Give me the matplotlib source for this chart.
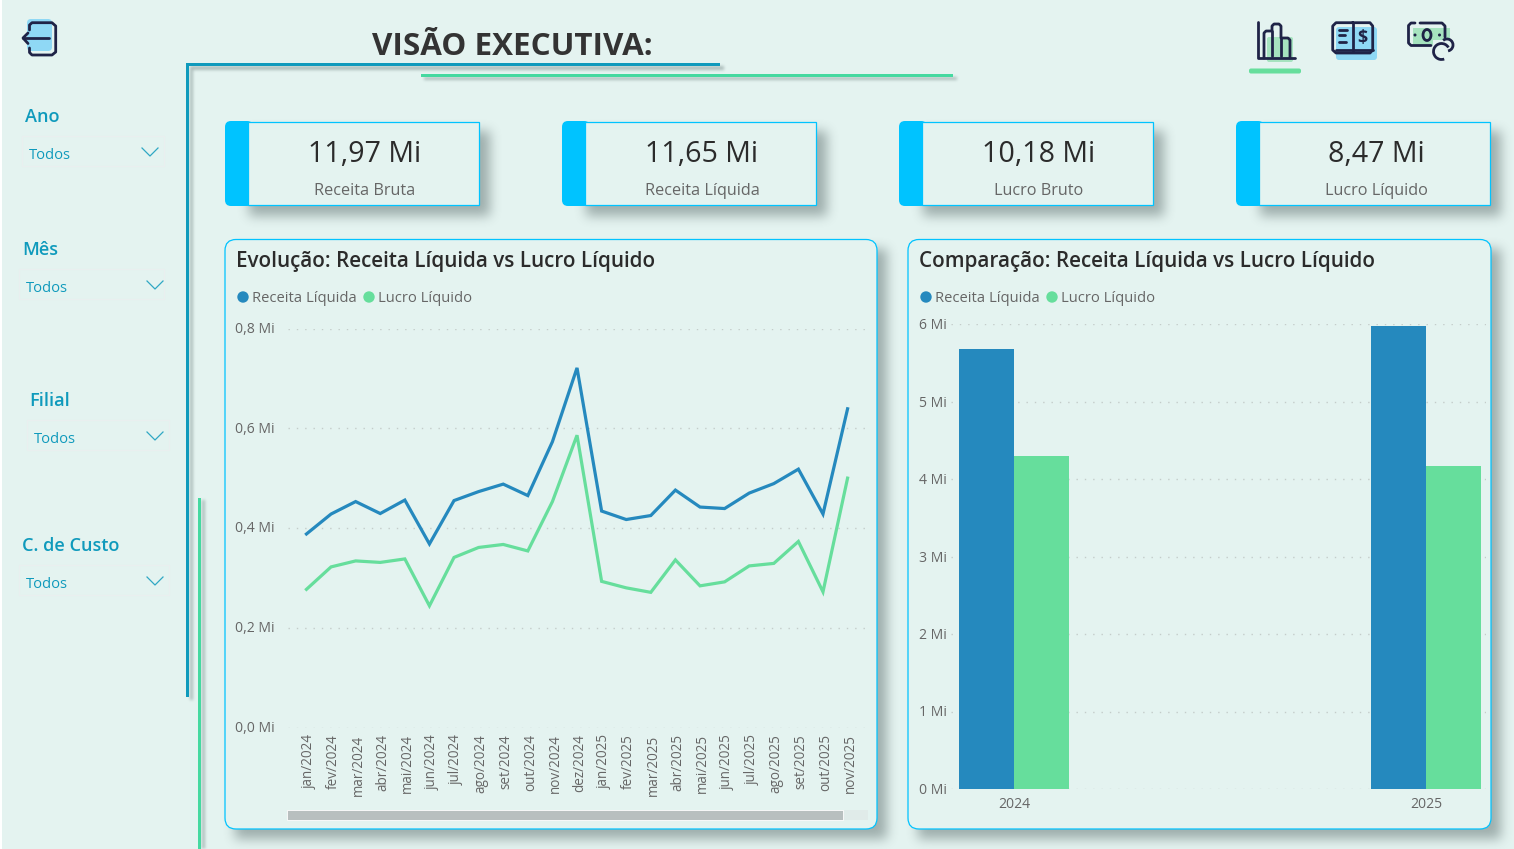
import numpy as np
import matplotlib
matplotlib.use('Agg')
import matplotlib.pyplot as plt
from matplotlib.patches import FancyBboxPatch, Rectangle, Circle, Arc, Ellipse
from matplotlib.ticker import FuncFormatter
from matplotlib.transforms import ScaledTranslation

plt.rcParams['font.family'] = ['Open Sans', 'DejaVu Sans']

months = ['jan/2024', 'fev/2024', 'mar/2024', 'abr/2024', 'mai/2024', 'jun/2024',
          'jul/2024', 'ago/2024', 'set/2024', 'out/2024', 'nov/2024', 'dez/2024',
          'jan/2025', 'fev/2025', 'mar/2025', 'abr/2025', 'mai/2025', 'jun/2025',
          'jul/2025', 'ago/2025', 'set/2025', 'out/2025', 'nov/2025']
receita_mes = [0.388, 0.428, 0.453, 0.429, 0.456, 0.368, 0.455, 0.473, 0.488, 0.465, 0.573, 0.721,
               0.434, 0.417, 0.425, 0.476, 0.442, 0.439, 0.470, 0.489, 0.518, 0.428, 0.639]
lucro_mes = [0.277, 0.322, 0.334, 0.331, 0.338, 0.244, 0.341, 0.361, 0.367, 0.354, 0.453, 0.586,
             0.293, 0.280, 0.271, 0.336, 0.284, 0.292, 0.324, 0.329, 0.373, 0.272, 0.500]

anos = ['2024', '2025']
receita_ano = [5.68, 5.97]
lucro_ano = [4.30, 4.17]

card_values = ['11,97 Mi', '11,65 Mi', '10,18 Mi', '8,47 Mi']
card_names = ['Receita Bruta', 'Receita Líquida', 'Lucro Bruto', 'Lucro Líquido']

BG = '#E4F3F0'
BLUE = '#2589BE'
GREEN = '#66DE9C'
LINE_GREEN = '#45D9A0'
CYAN = '#00C3FF'
TEAL = '#0F9ABC'
DARK = '#1F2347'
GREY = '#666666'

W, H = 1514, 849
fig = plt.figure(figsize=(W / 100, H / 100), dpi=100, facecolor=BG)
page = fig.add_axes([0, 0, 1, 1])
page.axis('off')


def px(n):
    return n * 0.72


def blur(a, n):
    # three box passes along each axis, close enough to a gaussian
    k = np.ones(n) / n
    for _ in range(3):
        a = np.apply_along_axis(lambda r: np.convolve(r, k, mode='same'), 0, a)
        a = np.apply_along_axis(lambda r: np.convolve(r, k, mode='same'), 1, a)
    return a


# drop shadows are painted on masks, then blurred
soft = np.zeros((H, W))
thin = np.zeros((H, W))
for x0 in [225, 562, 899, 1236]:
    soft[131:216, x0 + 24:x0 + 265] = 1
soft[249:839, 235:887] = 1
soft[249:839, 918:1501] = 1
thin[66:70, 190:724] = 1
thin[66:700, 190:193] = 1
thin[77:80, 424:957] = 1
thin[500:849, 202:205] = 1
shade = np.maximum(blur(soft, 11) * 0.38, blur(thin, 3) * 0.30)
rgba = np.zeros((H, W, 4))
rgba[..., :3] = (0.18, 0.25, 0.25)
rgba[..., 3] = shade
page.imshow(rgba, extent=(0, W, H, 0), aspect='auto', interpolation='nearest', zorder=0)
page.set_xlim(0, W)
page.set_ylim(H, 0)


def rbox(x0, y0, x1, y1, r, **kw):
    p = FancyBboxPatch((x0 + r, y0 + r), x1 - x0 - 2 * r, y1 - y0 - 2 * r,
                       boxstyle='round,pad=%f,rounding_size=%f' % (r, r), **kw)
    page.add_patch(p)
    return p


# strip at the left edge of the page
page.add_patch(Rectangle((0, 0), 2, H, fc='white', ec='none'))

# frame lines
page.add_patch(Rectangle((186, 63), 534, 3, fc=TEAL, ec='none'))
page.add_patch(Rectangle((186, 63), 3, 634, fc=TEAL, ec='none'))
page.add_patch(Rectangle((421, 73.5), 532, 3, fc=LINE_GREEN, ec='none'))
page.add_patch(Rectangle((198, 498), 2.5, 351, fc=LINE_GREEN, ec='none'))

page.text(512, 47, 'VISÃO EXECUTIVA:', fontsize=px(31.4), fontweight='bold', color='#333333',
          ha='center', va='center')

# slicers
slicers = [('Ano', 25, 115, 22, 136, 164, 29, 153, 150),
           ('Mês', 22, 248, 19, 269, 164, 26, 286, 155),
           ('Filial', 29.5, 399, 27, 420, 169, 34, 437, 155),
           ('C. de Custo', 22, 544, 19, 565, 169, 26, 582, 155)]
for name, tx, ty, bx0, by0, bx1, vx, vy, cx in slicers:
    page.text(tx, ty + 2, name, fontsize=px(18.1), fontweight='semibold', color=TEAL, ha='left', va='center')
    page.add_patch(Rectangle((bx0, by0), bx1 - bx0, 30, fc='none', ec='#E9EFEF', lw=0.8))
    page.text(vx, vy + 2, 'Todos', fontsize=px(14.8), color=TEAL, ha='left', va='center')
    page.plot([cx - 8, cx, cx + 8], [vy - 5, vy + 3, vy - 5], color=TEAL, lw=0.9, alpha=0.85)

# KPI cards
for x0, val, name in zip([225, 562, 899, 1236], card_values, card_names):
    rbox(x0, 121, x0 + 28, 206, 6, fc=CYAN, ec='none')
    page.add_patch(Rectangle((x0 + 23, 121.5), 231, 83.5, fc=BG, ec=CYAN, lw=0.9))
    page.text(x0 + 140, 154, val, fontsize=px(28.6), color='#2b2b2b', ha='center', va='center')
    page.text(x0 + 140, 191, name, fontsize=px(16.3), color=GREY, ha='center', va='center')

# chart panels
for x0, x1 in [(225, 877), (908, 1491)]:
    rbox(x0, 239.5, x1, 829, 11, fc=BG, ec=CYAN, lw=0.9)

for x0, title in [(236, 'Evolução: Receita Líquida vs Lucro Líquido'),
                  (919, 'Comparação: Receita Líquida vs Lucro Líquido')]:
    page.text(x0, 262, title, fontsize=px(20.7), fontweight='semibold', color='#2b2b2b',
              ha='left', va='center')
    page.add_patch(Circle((x0 + 7, 297), 5.7, fc=BLUE, ec='none'))
    page.text(x0 + 16, 299, 'Receita Líquida', fontsize=px(14.7), color=GREY, ha='left', va='center')
    page.add_patch(Circle((x0 + 133, 297), 5.7, fc=GREEN, ec='none'))
    page.text(x0 + 142, 299, 'Lucro Líquido', fontsize=px(14.7), color=GREY, ha='left', va='center')


def chart_axes(x0, y_top, x1, y_bottom):
    ax = fig.add_axes([x0 / W, 1 - y_bottom / H, (x1 - x0) / W, (y_bottom - y_top) / H])
    ax.patch.set_alpha(0)
    for s in ax.spines.values():
        s.set_visible(False)
    ax.grid(axis='y', color='#C4CCCA', lw=1, linestyle=(0, (1, 5)))
    ax.set_axisbelow(True)
    ax.tick_params(length=0, colors=GREY)
    return ax


def nudge(labels, dx, dy):
    # moves tick labels by a few pixels
    t = ScaledTranslation(dx / 100, dy / 100, fig.dpi_scale_trans)
    for lab in labels:
        lab.set_transform(lab.get_transform() + t)


# monthly lines
ax1 = chart_axes(288, 328.5, 868, 727.5)
pos = list(range(len(months)))
ax1.plot(pos, receita_mes, color=BLUE, lw=2.3, solid_joinstyle='miter')
ax1.plot(pos, lucro_mes, color=GREEN, lw=2.3, solid_joinstyle='miter')
ax1.set_xlim(-0.75, 22.83)
ax1.set_ylim(0, 0.8)
ax1.set_yticks([0, 0.2, 0.4, 0.6, 0.8])
ax1.yaxis.set_major_formatter(FuncFormatter(lambda v, p: ('%.1f Mi' % v).replace('.', ',')))
ax1.set_xticks(pos)
ax1.set_xticklabels(months, rotation=90, fontsize=px(13.5), color=GREY)
ax1.tick_params(axis='x', pad=5)
ax1.tick_params(axis='y', labelsize=px(14), pad=9.5)
nudge(ax1.get_xticklabels(), 2.5, 0)
nudge(ax1.get_yticklabels(), 0, 1)

# scroll bar under the month axis
page.add_patch(Rectangle((287, 810), 581, 10, fc='#E0EBE9', ec='none'))
page.add_patch(Rectangle((287, 810), 555.5, 10, fc='#B8BFBF', ec='white', lw=0.6))

# yearly bars
ax2 = chart_axes(951, 324, 1486, 789)
bw = 55 / 412
xs = [0, 1]
ax2.bar([x - bw / 2 for x in xs], receita_ano, bw, color=BLUE)
ax2.bar([x + bw / 2 for x in xs], lucro_ano, bw, color=GREEN)
ax2.set_xlim(-63 / 412, 1 + 60 / 412)
ax2.set_ylim(0, 6)
ax2.set_yticks(range(7))
ax2.yaxis.set_major_formatter(FuncFormatter(lambda v, p: '%d Mi' % v))
ax2.set_xticks(xs)
ax2.set_xticklabels(anos, fontsize=px(14), color=GREY)
ax2.tick_params(axis='x', pad=6)
ax2.tick_params(axis='y', labelsize=px(14), pad=3)
nudge(ax2.get_yticklabels(), 0, 0.5)

# navigation icons
ICON = dict(color=DARK, lw=2.0, solid_capstyle='round', solid_joinstyle='round')
# back arrow
rbox(27, 19, 52, 51, 4, fc='#8FD8F5', ec='none')
page.plot([29.5, 29.5, 32, 52, 55.7, 55.7, 52, 32, 29.5, 29.5],
          [30, 25, 22.7, 22.7, 26, 52, 55, 55, 52.5, 48], **ICON)
page.plot([23, 49], [38, 38], **ICON)
page.plot([28, 23, 28], [33, 38, 43.5], **ICON)

# bars icon, selected
rbox(1267, 37, 1293, 62, 2, fc='#A6E3BF', ec='none')
page.plot([1257.5, 1257.5, 1295], [21.5, 58, 58], **ICON)
page.plot([1264, 1264, 1266, 1272, 1272, 1274, 1279, 1281, 1281, 1288, 1290, 1290],
          [58, 33, 31, 31, 26, 24, 24, 26, 38, 38, 40, 58], **ICON)
page.plot([1272, 1272], [31, 56], **ICON)
page.plot([1281, 1281], [38, 56], **ICON)
rbox(1249, 68.5, 1301, 73.5, 2, fc=GREEN, ec='none')

# book icon
rbox(1336, 27, 1377, 60, 3, fc='#8FD8F5', ec='none')
page.plot([1352.7, 1336, 1332.7, 1332.7, 1336, 1370, 1372.7, 1372.7, 1370, 1352.7],
          [22.7, 22.7, 26, 50, 53, 53, 50, 26, 22.7, 22.7], **ICON)
page.plot([1352.7, 1352.7], [22.7, 51], **ICON)
page.plot([1336, 1372.7], [50, 50], **ICON)
for yy, xe in [(30, 1347), (34.5, 1345), (41.5, 1346)]:
    page.plot([1338.5, xe], [yy, yy], **ICON)
page.text(1362, 38, '$', fontsize=px(18), fontweight='bold', color=DARK, ha='center', va='center')

# banknote icon
page.add_patch(Rectangle((1413, 28), 37, 17, fc='#A6E3BF', ec='none'))
page.plot([1415, 1411, 1408.5, 1408.5, 1411, 1431], [23, 23, 25.5, 43, 45.5, 45.5], **ICON)
page.plot([1420, 1442, 1445, 1445], [23, 23, 26, 37], **ICON)
page.add_patch(Ellipse((1427, 35), 8, 11, fc='none', ec=DARK, lw=2.0))
page.add_patch(Circle((1415, 35), 1.5, fc=DARK, ec='none'))
page.add_patch(Circle((1439.5, 35), 1.5, fc=DARK, ec='none'))
page.add_patch(Rectangle((1433, 40), 22, 20, fc=BG, ec='none'))
page.add_patch(Arc((1441.5, 51.5), 16, 16, theta1=70, theta2=330, ec=DARK, lw=2.0))
page.add_patch(Arc((1447, 45), 12, 12, theta1=230, theta2=80, ec=DARK, lw=2.0))

fig.savefig('out.png', dpi=100, facecolor=BG)
